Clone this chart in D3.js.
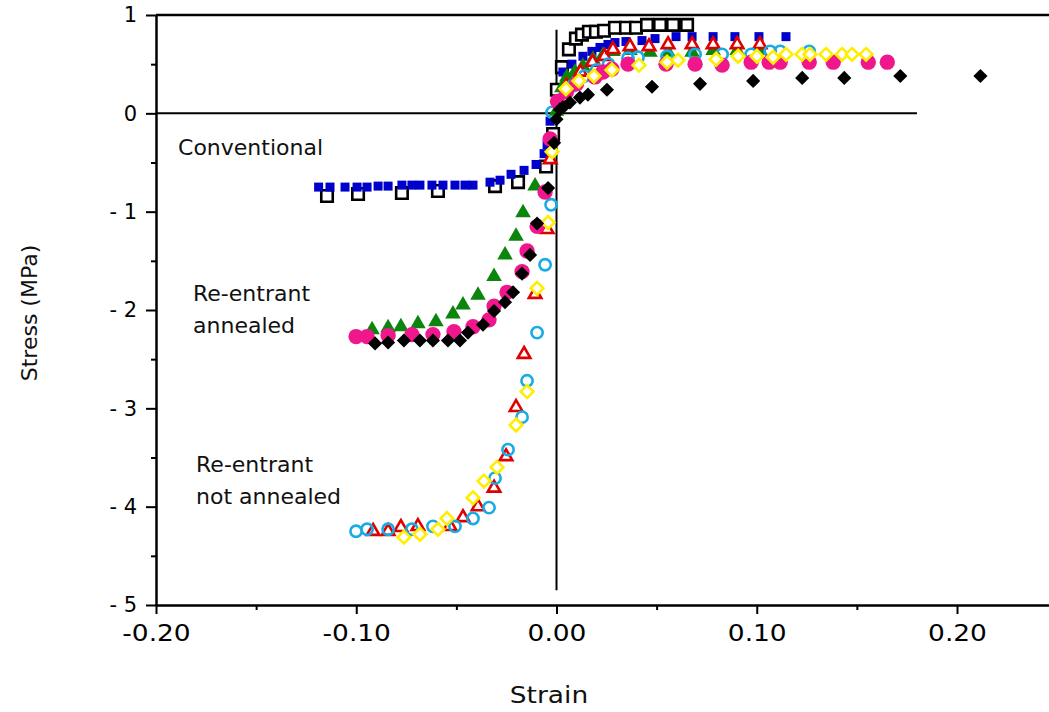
<!DOCTYPE html>
<html>
<head>
<meta charset="utf-8">
<script src="https://cdn.jsdelivr.net/npm/d3@7"></script>
<style>
  html, body { margin: 0; padding: 0; background: #fff; }
  svg { display: block; font-family: "DejaVu Sans", Verdana, sans-serif; }
</style>
</head>
<body>
<svg id="chart" width="1049" height="712"></svg>
<script>
// Stress–strain data (strain, stress in MPa)

// Conventional foam
const convBlueStrain = [-0.1188,-0.1131,-0.1056,-0.0996,-0.0946,-0.0891,-0.0841,-0.0772,-0.0722,-0.0682,-0.0622,-0.0567,-0.0507,-0.0457,-0.0417,-0.0332,-0.0282,-0.0227,-0.0162,-0.0102,-0.0062,-0.0047,-0.0032,
  0.0032,0.0077,0.0132,0.0177,0.0217,0.0257,0.0292,0.0347,0.0427,0.0492,0.0597,0.0677,0.0782,0.0891,0.1011,0.1146];
const convBlueStress = [-0.75,-0.75,-0.75,-0.75,-0.75,-0.74,-0.74,-0.73,-0.73,-0.73,-0.73,-0.73,-0.73,-0.73,-0.73,-0.70,-0.68,-0.62,-0.58,-0.52,-0.41,-0.32,-0.08,
  0.42,0.50,0.58,0.63,0.67,0.70,0.72,0.73,0.74,0.76,0.78,0.78,0.78,0.78,0.78,0.78];

const convBlackStrain = [-0.1146,-0.0991,-0.0772,-0.0592,-0.0307,-0.0192,-0.0052,-0.0017,
  0.0002,0.0027,0.0062,0.0097,0.0127,0.0162,0.0197,0.0237,0.0292,0.0347,0.0397,0.0452,0.0517,0.0582,0.0652];
const convBlackStress = [-0.84,-0.82,-0.81,-0.79,-0.74,-0.70,-0.54,-0.21,
  0.24,0.47,0.65,0.76,0.80,0.83,0.83,0.84,0.87,0.87,0.87,0.90,0.90,0.90,0.90];

// Re-entrant, annealed
const annGreenStrain = [-0.0921,-0.0841,-0.0777,-0.0692,-0.0602,-0.0517,-0.0467,-0.0392,-0.0312,-0.0257,-0.0202,-0.0167,-0.0107,0.0000,
  0.0027,0.0052,0.0092,0.0132,0.0182,0.0232,0.0282,0.0367,0.0467,0.0557,0.0677,0.0782,0.0902,0.1016];
const annGreenStress = [-2.20,-2.18,-2.17,-2.14,-2.12,-2.04,-1.95,-1.85,-1.66,-1.44,-1.25,-1.01,-0.74,0.02,
  0.26,0.37,0.42,0.48,0.55,0.59,0.63,0.64,0.62,0.62,0.62,0.64,0.64,0.64];

const annPinkStrain = [-0.1001,-0.0946,-0.0841,-0.0722,-0.0617,-0.0512,-0.0417,-0.0337,-0.0312,-0.0247,-0.0172,-0.0147,-0.0097,-0.0057,-0.0032,
  0.0005,0.0050,0.0100,0.0192,0.0232,0.0277,0.0357,0.0547,0.0692,0.0827,0.0972,0.1062,0.1117,0.1262,0.1382,0.1557,0.1652];
const annPinkStress = [-2.27,-2.27,-2.26,-2.25,-2.25,-2.22,-2.17,-2.10,-1.96,-1.82,-1.61,-1.40,-1.15,-0.80,-0.26,
  0.12,0.22,0.30,0.37,0.42,0.45,0.50,0.50,0.50,0.49,0.52,0.52,0.52,0.52,0.52,0.52,0.52];

const annBlackStrain = [-0.0906,-0.0841,-0.0762,-0.0682,-0.0617,-0.0542,-0.0482,-0.0442,-0.0367,-0.0312,-0.0257,-0.0217,-0.0172,-0.0132,-0.0097,-0.0042,-0.0012,0.0000,
  0.0017,0.0032,0.0067,0.0117,0.0157,0.0252,0.0477,0.0717,0.0982,0.1227,0.1437,0.1717,0.2117];
const annBlackStress = [-2.34,-2.33,-2.31,-2.31,-2.31,-2.31,-2.31,-2.23,-2.15,-2.01,-1.92,-1.82,-1.63,-1.44,-1.12,-0.76,-0.30,-0.06,
  0.04,0.06,0.11,0.16,0.19,0.24,0.27,0.30,0.33,0.36,0.36,0.38,0.38];

// Re-entrant, not annealed
const notRedStrain = [-0.0916,-0.0841,-0.0777,-0.0692,-0.0532,-0.0467,-0.0392,-0.0312,-0.0252,-0.0202,-0.0162,-0.0107,-0.0047,-0.0032,
  0.0050,0.0120,0.0180,0.0240,0.0282,0.0367,0.0462,0.0557,0.0677,0.0782,0.0902,0.1016];
const notRedStress = [-4.25,-4.25,-4.21,-4.20,-4.20,-4.11,-4.00,-3.81,-3.49,-2.99,-2.45,-1.84,-1.18,-0.47,
  0.28,0.42,0.52,0.58,0.65,0.68,0.68,0.70,0.70,0.70,0.70,0.70];

const notCyanStrain = [-0.1001,-0.0946,-0.0841,-0.0722,-0.0617,-0.0507,-0.0417,-0.0337,-0.0307,-0.0242,-0.0172,-0.0147,-0.0097,-0.0057,-0.0027,-0.0022,
  0.0030,0.0080,0.0140,0.0200,0.0260,0.0357,0.0407,0.0552,0.0692,0.0827,0.0972,0.1067,0.1117,0.1262];
const notCyanStress = [-4.25,-4.23,-4.23,-4.23,-4.20,-4.20,-4.12,-4.01,-3.71,-3.42,-3.09,-2.72,-2.23,-1.54,-0.93,0.01,
  0.15,0.28,0.38,0.44,0.50,0.56,0.57,0.58,0.60,0.60,0.60,0.63,0.63,0.63];

const notYellowStrain = [-0.0762,-0.0682,-0.0592,-0.0547,-0.0417,-0.0362,-0.0297,-0.0202,-0.0147,-0.0097,-0.0042,-0.0022,
  0.0047,0.0112,0.0187,0.0277,0.0412,0.0552,0.0607,0.0797,0.0907,0.1001,0.1082,0.1146,0.1226,0.1266,0.1346,0.1426,0.1476,0.1546];
const notYellowStress = [-4.31,-4.28,-4.23,-4.12,-3.91,-3.74,-3.60,-3.17,-2.83,-1.78,-1.11,-0.39,
  0.25,0.33,0.38,0.44,0.49,0.52,0.54,0.55,0.58,0.58,0.57,0.60,0.60,0.60,0.60,0.60,0.60,0.60];

// Axis ticks
const xMajorTicks = [-0.20, -0.10, 0.00, 0.10, 0.20];
const xMinorTicks = [-0.15, -0.05, 0.05, 0.15];
const yMajorTicks = [-5, -4, -3, -2, -1, 0, 1];
const yMinorTicks = [-4.5, -3.5, -2.5, -1.5, -0.5, 0.5];

// Region labels
const groupLabels = [
  { lines: ["Conventional"], x: -0.189, y: -0.42 },
  { lines: ["Re-entrant", "annealed"], x: -0.1815, y: -1.91 },
  { lines: ["Re-entrant", "not annealed"], x: -0.180, y: -3.65 }
];

// ---------------------------------------------------------------------------
const svg = d3.select("#chart");
const plotLeft = 156, plotTop = 15, plotBottom = 605;

const x = d3.scaleLinear().domain([-0.2, 0.25]).range([plotLeft, plotLeft + 0.45 * 2002.5]);
const y = d3.scaleLinear().domain([-5, 1]).range([plotBottom, plotTop]);

const zip = (xs, ys) => xs.map((v, i) => [v, ys[i]]);

// Reference lines through the origin
svg.append("line")
  .attr("x1", x(-0.2)).attr("x2", x(0.18))
  .attr("y1", y(0)).attr("y2", y(0))
  .attr("stroke", "#000").attr("stroke-width", 2);
svg.append("line")
  .attr("x1", x(0)).attr("x2", x(0))
  .attr("y1", y(0.85)).attr("y2", y(-4.85))
  .attr("stroke", "#000").attr("stroke-width", 2);

// Top frame line
svg.append("line")
  .attr("x1", plotLeft).attr("x2", 1049)
  .attr("y1", plotTop).attr("y2", plotTop)
  .attr("stroke", "#000").attr("stroke-width", 2.5);

// Axes (hyphen-minus in labels)
const fmtX = d => (d < 0 ? "-" : "") + Math.abs(d).toFixed(2);
svg.append("g").attr("class", "xaxis").attr("transform", `translate(0,${plotBottom})`)
  .call(d3.axisBottom(x).tickValues(xMajorTicks).tickFormat(fmtX).tickSize(9).tickSizeOuter(0).tickPadding(11));
svg.append("g").attr("transform", `translate(0,${plotBottom})`)
  .call(d3.axisBottom(x).tickValues(xMinorTicks).tickFormat("").tickSize(5).tickSizeOuter(0))
  .select(".domain").remove();

svg.append("g").attr("class", "yaxis").attr("transform", `translate(${plotLeft},0)`)
  .call(d3.axisLeft(y).tickValues(yMajorTicks)
    .tickFormat(d => d < 0 ? "- " + (-d) : String(d))
    .tickSize(10).tickSizeOuter(0).tickPadding(9));
svg.append("g").attr("transform", `translate(${plotLeft},0)`)
  .call(d3.axisLeft(y).tickValues(yMinorTicks).tickFormat("").tickSize(5).tickSizeOuter(0))
  .select(".domain").remove();

svg.selectAll(".domain").attr("stroke-width", 2.5);
svg.selectAll(".tick line").attr("stroke-width", 2);
svg.selectAll(".tick text")
  .attr("font-family", "DejaVu Sans, Verdana, sans-serif")
  .attr("fill", "#000");
// Bottom labels use a slightly wider face
svg.selectAll(".xaxis .tick text").attr("font-size", 23)
  .attr("transform", "scale(1.15,1)");
svg.selectAll(".yaxis .tick text").attr("font-size", 21);

// Axis titles
svg.append("text")
  .attr("transform", "translate(549,703) scale(1.15,1)")
  .attr("text-anchor", "middle")
  .attr("font-size", 23).attr("fill", "#111")
  .text("Strain");
svg.append("text")
  .attr("transform", "translate(37,313) rotate(-90)")
  .attr("text-anchor", "middle")
  .attr("font-size", 22).attr("fill", "#111")
  .text("Stress (MPa)");

// Region labels
groupLabels.forEach(g => {
  const t = svg.append("text")
    .attr("x", x(g.x)).attr("y", y(g.y))
    .attr("font-size", 22).attr("fill", "#111");
  g.lines.forEach((ln, i) => {
    t.append("tspan").attr("x", x(g.x)).attr("dy", i === 0 ? 0 : 32).text(ln);
  });
});

// Markers
function drawSeries(xs, ys, opts) {
  const sym = d3.symbol().type(opts.type).size(opts.size);
  svg.append("g").selectAll("path")
    .data(zip(xs, ys))
    .join("path")
    .attr("d", sym)
    .attr("transform", d => `translate(${x(d[0])},${y(d[1])})` + (opts.rotate ? ` rotate(${opts.rotate})` : ""))
    .attr("fill", opts.fill)
    .attr("stroke", opts.stroke || "none")
    .attr("stroke-width", opts.strokeWidth || 0);
}

drawSeries(convBlackStrain, convBlackStress, { type: d3.symbolSquare, size: 132, fill: "#fff", stroke: "#000", strokeWidth: 2.6 });
drawSeries(convBlueStrain, convBlueStress, { type: d3.symbolSquare, size: 81, fill: "#0000cc" });
drawSeries(annGreenStrain, annGreenStress, { type: d3.symbolTriangle, size: 105, fill: "#0b850b" });
drawSeries(notRedStrain, notRedStress, { type: d3.symbolTriangle, size: 68, fill: "#fff", stroke: "#e00000", strokeWidth: 2.6 });
drawSeries(notCyanStrain, notCyanStress, { type: d3.symbolCircle, size: 100, fill: "none", stroke: "#18ace6", strokeWidth: 2.6 });
drawSeries(annPinkStrain, annPinkStress, { type: d3.symbolCircle, size: 185, fill: "#f0168c" });
drawSeries(notYellowStrain, notYellowStress, { type: d3.symbolSquare, size: 81, fill: "#fff", stroke: "#ffee00", strokeWidth: 2.6, rotate: 45 });
drawSeries(annBlackStrain, annBlackStress, { type: d3.symbolSquare, size: 100, fill: "#000", rotate: 45 });
</script>
</body>
</html>
